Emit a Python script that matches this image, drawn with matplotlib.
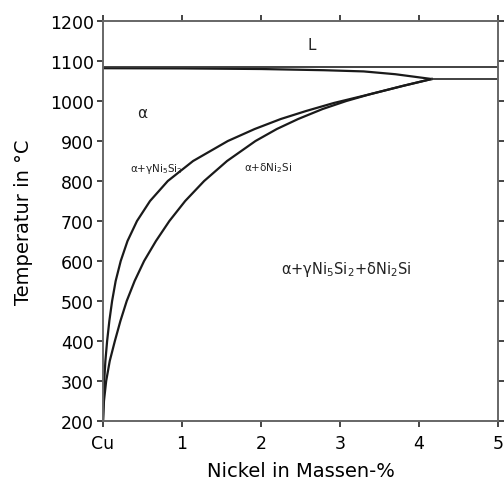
import matplotlib.pyplot as plt

# phase boundary alpha / alpha+gamma Ni5Si2
gamma_ni = [0.0, 0.005, 0.015, 0.03, 0.052, 0.08, 0.115, 0.16, 0.224, 0.31, 0.43, 0.595, 0.82,
            1.14, 1.58, 1.92, 2.25, 2.57, 2.92, 3.38, 3.8, 4.16]
gamma_t = [200, 250, 300, 350, 400, 450, 500, 550, 600, 650, 700, 750, 800,
           850, 900, 930, 955, 975, 995, 1017, 1038, 1055]

# phase boundary alpha+gamma / alpha+delta Ni2Si
delta_ni = [0.0, 0.012, 0.04, 0.085, 0.15, 0.22, 0.30, 0.40, 0.52, 0.67, 0.84, 1.04, 1.28,
            1.57, 1.93, 2.2, 2.47, 2.78, 3.08, 3.38, 3.8, 4.16]
delta_t = [200, 250, 300, 350, 400, 450, 500, 550, 600, 650, 700, 750, 800,
           850, 900, 930, 955, 980, 1000, 1017, 1038, 1055]

# narrow solidus wedge near the top
wedge_ni = [0.0, 1.0, 2.0, 2.8, 3.3, 3.7, 4.16]
wedge_t = [1082, 1081.5, 1080, 1077, 1074, 1067, 1055]

liquidus_t = 1084
eutectic_t = 1055
eutectic_ni = 4.16

xticks = [0, 1, 2, 3, 4, 5]
xticklabels = ['Cu', '1', '2', '3', '4', '5']
yticks = list(range(200, 1201, 100))

plt.rcParams['font.family'] = 'DejaVu Sans'

fig = plt.figure(figsize=(5.04, 4.85), dpi=100)
ax = fig.add_axes([0.2044, 0.1299, 0.7837, 0.8247])

ax.plot(gamma_ni, gamma_t, color='#1a1a1a', lw=1.6)
ax.plot(delta_ni, delta_t, color='#1a1a1a', lw=1.6)
ax.plot(wedge_ni, wedge_t, color='#1a1a1a', lw=1.6)
ax.axhline(liquidus_t, color='#333333', lw=1.3)
ax.plot([eutectic_ni, 5], [eutectic_t, eutectic_t], color='#333333', lw=1.3)

ax.set_xlim(0, 5)
ax.set_ylim(200, 1200)
ax.set_xticks(xticks)
ax.set_xticklabels(xticklabels)
ax.set_yticks(yticks)

for s in ax.spines.values():
    s.set_color('#666666')
    s.set_linewidth(1.4)
ax.tick_params(direction='out', length=4.5, width=1.4, color='#444444',
               labelsize=12.5, top=True, right=True, labeltop=False, labelright=False)
ax.tick_params(axis='y', pad=2)
ax.tick_params(axis='x', pad=5)

ax.set_xlabel('Nickel in Massen-%', fontsize=14, labelpad=6)
ax.set_ylabel('Temperatur in °C', fontsize=14, labelpad=12)

ax.text(2.64, 1142, 'L', fontsize=11, ha='center', va='center', color='#222222')
ax.text(0.5, 972, 'α', fontsize=11, ha='center', va='center', color='#222222')
ax.text(0.68, 832, r'α+γNi$_5$Si$_2$', fontsize=7.5, ha='center', va='center', color='#222222')
ax.text(2.09, 835, r'α+δNi$_2$Si', fontsize=7.5, ha='center', va='center', color='#222222')
ax.text(3.08, 582, r'α+γNi$_5$Si$_2$+δNi$_2$Si', fontsize=10.5, ha='center', va='center', color='#222222')

fig.savefig('out.png', dpi=100)
